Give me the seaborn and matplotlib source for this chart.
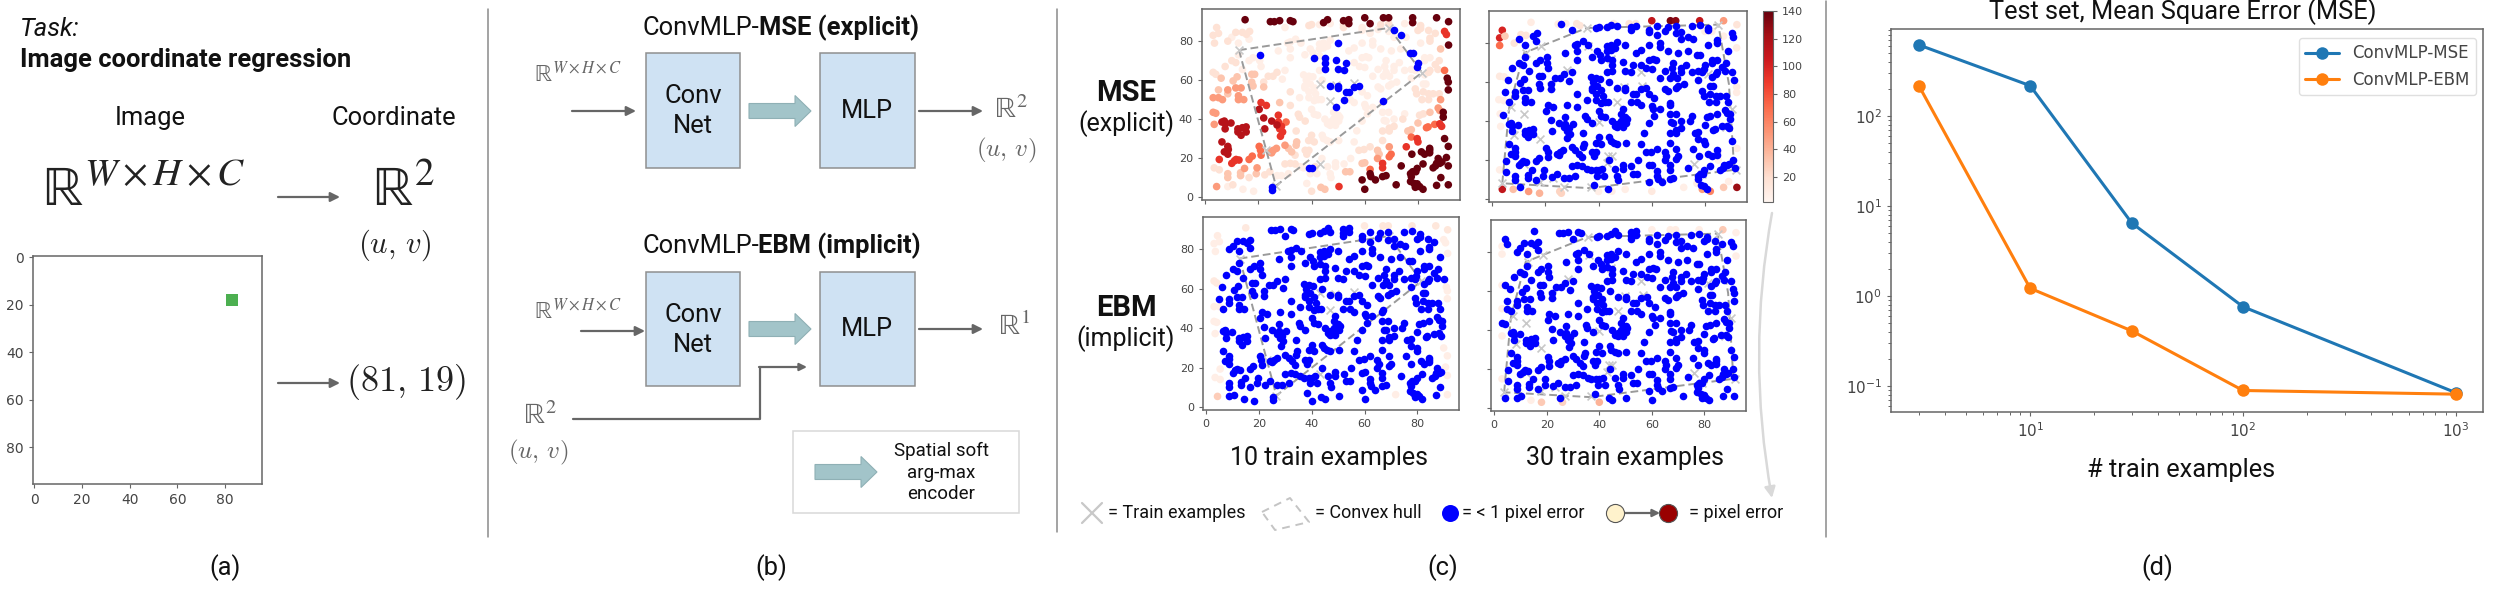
import matplotlib
matplotlib.use('Agg')
import matplotlib.pyplot as plt
from matplotlib.cm import ScalarMappable
from matplotlib.colors import Normalize
from matplotlib.patches import FancyArrow, FancyArrowPatch, Rectangle
import numpy as np
import seaborn as sns

# panel (d) values
train_sizes = [3, 10, 30, 100, 1000]
mse_curve = [622, 219, 6.5, 0.76, 0.084]
ebm_curve = [219, 1.22, 0.41, 0.089, 0.081]

# panel (c): test points of the 10 example MSE model, grouped by error level
mse10_blue = [(20.5, 73), (50, 79), (41, 71.5), (45, 71.5), (49, 70.5), (45, 69), (53, 69), (45, 65.5), (50, 65.5),
              (52, 65), (47, 57), (50, 57), (50, 56), (56, 56.5), (58, 57), (54, 54), (53, 54), (52, 50), (49, 46),
              (67, 49.5), (71, 85.5), (73.5, 83), (77, 74), (78, 74), (80, 69), (79.5, 66.5), (38.9, 14.7),
              (40, 14.7), (25.2, 5), (25.2, 3.4)]
mse10_dark = [(15, 91), (26, 90), (24.5, 90), (28, 90.5), (32, 90.5), (33, 90), (46, 91), (44.5, 89.5), (54, 91),
              (52, 90.5), (54, 89), (60, 92), (62, 89), (67, 92), (69, 92), (78, 92), (78, 89.5), (87, 92), (91.5, 90),
              (91.5, 78), (91, 61), (91.4, 59), (91.4, 55), (89.5, 43.5), (89.5, 41), (90, 30), (91.4, 26), (84.4, 25),
              (77.7, 22), (81.3, 23.2), (84.4, 24), (84.4, 22.7), (82.5, 22), (73.7, 16), (81.9, 17), (87.6, 19.8),
              (88.2, 17.3), (87, 17.3), (85.7, 15), (86.6, 16), (89, 18), (79.7, 14.7), (78, 13), (79.2, 13),
              (90.7, 20.3), (91.4, 16), (59, 8.8), (62, 12), (62.3, 10.5), (64, 8.8), (66.7, 10.5), (68, 11),
              (77.2, 12), (77.5, 10.5), (77.2, 8), (78.5, 7), (79.7, 6.8), (80.6, 5.4), (88.6, 10), (60, 4), (79, 5),
              (81.9, 4), (87, 6), (71.8, 6.3), (91.4, 6.3)]
mse10_crimson = [(20.3, 45), (6.3, 38.5), (9.7, 38), (7.6, 37.6), (7.5, 35), (7.2, 39), (22, 40.6), (25, 39), (27, 37),
                 (22.4, 35), (12.3, 35), (14, 35.6), (15.4, 36), (12.3, 33.4), (13.5, 31.7), (15.4, 33.4), (6.3, 28.3),
                 (8.5, 26), (8.7, 24.4), (7.2, 23.2), (8.5, 22)]
mse10_red = [(90, 85), (90.7, 83.4), (21, 48.5), (23, 47), (27.5, 42), (27.5, 38.5), (28.7, 36.3), (88.2, 37.6),
             (88.9, 36.3), (28, 35), (28.3, 31.2), (29.1, 33.4), (79.7, 30), (80, 28.3), (75.6, 25.8), (11.6, 19.3),
             (12.7, 19), (10, 17.3), (11, 18.6), (5.3, 19.3), (66.7, 17.3), (66.7, 15), (50.3, 5.4)]
mse10_coral = [(90, 65), (30.4, 38.5), (83.8, 36), (86.3, 37.3), (83.2, 35.6), (77.5, 30.8), (20.3, 26), (20.8, 24),
               (21, 21.5), (69.9, 22), (69.2, 20.7), (17.7, 21), (16.5, 19.3), (62, 14.2)]
mse10_orange = [(8.5, 55), (11.5, 56), (13.5, 56), (12.5, 52), (6.5, 50), (12.5, 50), (14.5, 50), (88.5, 50), (3, 51),
                (5, 51), (87.6, 45.7), (88.2, 44.4), (3, 43.5), (4, 43), (3.4, 37.3), (69.2, 25.8), (24.3, 23.2),
                (25.6, 24), (26.8, 25), (25, 22.7), (30, 26.6), (64.8, 19.8), (19.5, 15), (14.8, 14.7), (4.3, 5.4)]
mse10_peach = [(88.5, 76), (17.5, 63), (18.6, 63), (6, 61), (12, 61.7), (10.5, 59.6), (17.5, 59), (22, 56.5), (18, 57),
               (8.5, 53), (5, 55), (28, 48.5), (84.5, 43.5), (80, 38), (76.2, 33.9), (77.5, 34.6), (34.4, 28.3),
               (34.2, 26.6), (31.3, 25), (32.5, 23.2), (64.8, 24), (65.4, 22), (59, 17.3), (60, 17.6), (8.5, 12),
               (8.5, 10), (13.3, 12.5), (13.3, 11), (19.2, 12), (52.8, 13), (54.4, 13), (43.5, 5), (45, 4)]
mse10_pale = [(52, 88.5), (52, 87), (66, 88.5), (69, 89), (81, 88), (39, 88), (40, 88.5), (80, 85.5), (81, 86.5),
              (84, 85.5), (86.5, 84), (11.5, 84.5), (14, 84.5), (16.7, 85), (15.5, 83.5), (8.5, 80), (4.3, 87), (3, 83),
              (5, 84), (84.5, 80), (84.5, 81.5), (3.5, 79), (7.5, 67), (10, 70), (11.5, 69), (88, 70), (86.5, 68),
              (87.5, 65.5), (84.5, 65), (84, 64), (23.7, 62), (27, 64), (25.5, 62), (3, 64), (4, 63), (22, 59), (32, 54),
              (79, 55.5), (79.5, 53), (81.5, 50), (82, 54), (84, 53), (85.7, 53), (88, 53), (84, 50), (32, 47), (35, 42.5),
              (35.5, 41), (82, 42.7), (80.6, 42), (37.6, 39), (74.3, 40), (71, 36.3), (69.2, 35.4), (66.7, 33.9),
              (69.2, 33.9), (34.2, 33.9), (40, 31.7), (38.9, 29), (41, 28.3), (66.7, 29), (33.8, 21.5), (37.6, 24),
              (39, 24), (38.2, 22), (59.7, 24.4), (62, 25.8), (57.8, 24), (30, 17), (32, 17.3), (33.8, 17), (41.4, 15.6),
              (16.5, 10), (22.4, 11.4), (24.3, 13), (10.4, 6.3), (40, 3), (3.4, 15), (5.3, 14)]
mse10_faint = [(47, 89), (43, 88.5), (75, 89), (30, 87), (59, 87), (59, 85.5), (62, 84), (65, 86), (69, 85), (75.5, 82),
               (10, 82), (16.5, 81), (12.5, 79), (34, 81), (32, 79.6), (31, 79), (36, 79), (47, 80.5), (44.5, 79),
               (43, 78.5), (59, 79), (63, 80), (63, 78), (71, 82), (81, 79), (27.5, 75), (32, 76), (32, 71.5), (37.5, 73),
               (39.5, 76), (40.5, 74), (43, 76), (44.5, 76.5), (46, 77.5), (43, 72.5), (54, 75), (56, 76.5), (59, 71.5),
               (60.5, 72), (61.5, 71.5), (66, 76), (70, 75), (73.5, 76), (82.5, 71.5), (84.5, 71.5), (12.5, 73), (18, 71.5),
               (16.5, 70), (20.5, 70), (21, 67), (56, 69), (58, 67), (60, 66.5), (68, 70), (67.5, 67), (71, 67), (73, 69),
               (82.5, 70), (14, 65.5), (43, 65), (65, 65.5), (75, 65), (77.5, 65.5), (82.5, 62.7), (79, 65), (71, 65),
               (68, 64), (69.3, 62), (67, 62), (63, 62), (30, 65), (29, 60.5), (37, 62.7), (39, 62), (40.5, 61.7), (38, 60),
               (44, 60), (35.5, 51), (37.5, 56), (39, 54), (37.5, 57), (39.5, 58), (41, 56), (41.5, 53), (39, 51), (41, 49.5),
               (42.5, 50), (43.7, 50), (54.5, 50), (56, 48.5), (59, 54), (61, 52), (65, 56.5), (66, 55.5), (69, 57), (72, 59),
               (70, 58), (77.5, 61), (83, 58), (82, 58), (40, 45), (41, 42.5), (42.3, 42), (48.3, 43.5), (50, 42), (60, 47.5),
               (60.4, 46), (63, 46), (61, 42.7), (66.7, 48.5), (66.7, 43.5), (69, 43.5), (75, 42.7), (67.3, 39.3), (45, 40),
               (47, 38.5), (48.3, 40), (50.2, 39), (46, 37.6), (47, 36.8), (49, 36.8), (50.6, 41), (59, 39), (68, 39), (71, 40),
               (57, 34), (44, 31.7), (44.5, 30), (45.8, 29), (47, 28.3), (50.2, 29), (56, 28.3), (54.7, 19.8), (43.9, 19.8),
               (35.7, 15.6), (37, 15), (46, 15.6), (49, 17.6), (49, 15.6), (52.2, 17), (27, 11), (28.7, 11), (31.3, 12),
               (39.5, 12), (42, 12), (47, 12), (47.3, 10), (8.5, 5.4), (14.2, 4), (18.2, 3), (38.2, 7)]
mse10_levels = [8, 18, 32, 50, 70, 92, 115, 140]

# points that miss the 1 pixel mark in the other three panels: x, y, error
ebm10_off_x = [15, 60, 67, 69, 78, 87, 91.5, 91.5, 4.3, 3, 5, 90, 90.7, 3.5, 3, 4, 91, 91.4, 91.4, 3, 5, 3, 4, 3.4, 90,
               91.4, 90.7, 91.4, 3.4, 5.3, 5.3, 71.8, 91.4, 4.3]
ebm10_off_y = [91, 92, 92, 92, 92, 92, 90, 78, 87, 83, 84, 85, 83.4, 79, 64, 63, 61, 59, 55, 51, 51, 43.5, 43, 37.3, 30,
               26, 20.3, 16, 15, 14, 19.3, 6.3, 6.3, 5.4]
ebm10_off_err = [12, 12, 14, 14, 14, 14, 14, 8, 10, 8, 8, 8, 8, 8, 12, 12, 8, 8, 8, 8, 8, 8, 8, 8, 8, 8, 8, 8, 8, 8, 8, 8,
                 8, 28]
mse30_off_x = [3.8, 2.8, 2.8, 4.8, 8.3, 10.8, 12.7, 14.6, 24.8, 27.7, 31.8, 33, 45.7, 51.5, 54, 60, 67, 69, 78, 87, 92, 91.9,
               80, 82.6, 87, 2.8, 4.5, 91.9, 91.9, 2.5, 4.4, 3, 3.2, 92, 85, 85, 2.8, 3.8, 7.9, 13.7, 17.8, 25.4, 26, 40, 45,
               50, 60, 72, 77, 79, 82, 87, 88.9, 92]
mse30_off_y = [86.6, 82.7, 78.8, 83.6, 80, 84.4, 84, 90.7, 89.8, 90, 90, 89, 90, 90, 90, 91.5, 91.5, 91.5, 91.5, 91.5, 89.5,
               77.6, 86, 86, 83.6, 63, 62.7, 57.6, 54.7, 51, 50.5, 43.7, 37.3, 26, 24, 20, 15, 5, 5, 3.9, 3, 3.9, 3, 3.9, 4,
               5, 4, 6, 8, 5, 4, 6, 9, 6]
mse30_off_err = [100, 100, 70, 30, 15, 15, 15, 10, 10, 10, 15, 15, 12, 15, 15, 110, 135, 130, 110, 50, 15, 10, 8, 8, 8, 12,
                 10, 10, 10, 8, 8, 8, 8, 10, 5, 5, 8, 110, 35, 50, 40, 25, 25, 8, 8, 8, 12, 8, 10, 50, 60, 30, 8, 125]
ebm30_off_x = [60, 67, 69, 78, 87, 92, 92, 3, 3, 3, 3, 3, 3, 14, 18, 26, 40]
ebm30_off_y = [91.5, 91.5, 91.5, 91.5, 91.5, 90, 78, 83, 79, 63, 51, 37, 15, 4, 3, 3, 3]
ebm30_off_err = [8, 10, 10, 8, 30, 8, 8, 8, 8, 8, 8, 8, 10, 8, 30, 25, 40]

# convex hulls and train examples
hull10_x = [12.7, 69.2, 81.5, 26.6, 12.7]
hull10_y = [75.4, 86.8, 63.9, 5.8, 75.4]
train10_x = [12.7, 69.2, 81.5, 26.6, 47, 49, 56, 43.3, 23, 43]
train10_y = [75.4, 86.8, 63.9, 5.8, 49.5, 57.6, 58.5, 17, 24, 58]
hull30_x = [3.8, 6.4, 12, 35.6, 85, 89, 91, 36.8, 3.8]
hull30_y = [8.1, 47, 75, 87.8, 89.5, 59, 15, 5.6, 8.1]
train30_x = [18.4, 12.7, 28, 22, 7, 12, 8.3, 17.8, 40, 47, 49.6, 56.5, 56, 81.3, 90, 88, 91.5, 76, 43, 43.7, 45, 12, 23, 18,
             27, 37, 3.8, 79, 36, 44.5, 85, 35.6]
train30_y = [78.5, 75, 66, 58, 47, 43.7, 32.7, 31, 39.5, 49.7, 57.6, 58, 65, 64, 46, 37, 15, 18, 18.3, 22, 22, 18, 10.7, 9,
             6, 6, 8, 13, 78.5, 71.7, 89.5, 87.8]

sns.set_style('ticks')
plt.rcParams['font.family'] = ['Roboto', 'DejaVu Sans']
plt.rcParams['mathtext.default'] = 'rm'
W, H = 2500, 592
fig = plt.figure(figsize=(W / 100, H / 100), dpi=100)
GREY = '#666666'
TICK = '#444444'
REALS_WHC = r'$\mathbb{R}^{\mathit{W}\times\mathit{H}\times\mathit{C}}$'
UV = r'$(\mathit{u},\,\mathit{v})$'


def box(left, top, right, bottom):
    return fig.add_axes([left / W, 1 - bottom / H, (right - left) / W, (bottom - top) / H])


def style_axes(ax, size=10, color=GREY):
    for s in ax.spines.values():
        s.set_visible(True)
        s.set_color(color)
        s.set_linewidth(1.1)
    ax.tick_params(labelsize=size, labelcolor=TICK, color=color, width=0.8, length=3)
    for lab in ax.get_xticklabels() + ax.get_yticklabels():
        lab.set_family('DejaVu Sans')


# overlay in pixel coords for all the diagram parts
ov = fig.add_axes([0, 0, 1, 1], zorder=5)
ov.set_xlim(0, W)
ov.set_ylim(H, 0)
ov.axis('off')
ov.patch.set_alpha(0)


def label(x, y, s, size=18.4, ha='center', **kw):
    ov.text(x, y, s, fontsize=size, ha=ha, va='center', color=kw.pop('color', '#111111'), **kw)


def arrow(x0, y0, x1, y1, lw=1.6, color=GREY, scale=14):
    ov.add_patch(FancyArrowPatch((x0, y0), (x1, y1), arrowstyle='-|>', mutation_scale=scale, lw=lw, color=color,
                                 shrinkA=0, shrinkB=0))


def block_arrow(x0, x1, y):
    ov.add_patch(FancyArrow(x0, y, x1 - x0, 0, width=15, head_width=31, head_length=16, length_includes_head=True,
                            facecolor='#a2c4c9', edgecolor='#8fb0b5', lw=0.8))


def math(x, y, s, size, fam='stix', ha='center', color='#222222'):
    ov.text(x, y, s, fontsize=size, ha=ha, va='center', color=color, math_fontfamily=fam)


for x, y0, y1 in [(488, 9, 537), (1057, 9, 532), (1826, 1, 537)]:
    ov.plot([x, x], [y0, y1], color='#8a8a8a', lw=1.1)
for x, s in [(225, '(a)'), (771, '(b)'), (1443, '(c)'), (2157, '(d)')]:
    label(x, 568, s)

# panel (a)
label(20, 29, 'Task:', ha='left', style='italic')
label(20, 60, 'Image coordinate regression', ha='left', weight='bold')
label(150, 118, 'Image')
label(394, 118, 'Coordinate')
math(144, 190, REALS_WHC, 40)
math(403, 190, r'$\mathbb{R}^{2}$', 40)
math(395, 245, UV, 22, fam='cm')
arrow(278, 197, 340, 197)
arrow(278, 383, 340, 383)
math(406, 382, r'$(81,\,19)$', 26, fam='cm')

ax_a = box(33, 256, 262, 484)
ax_a.set_xlim(-0.5, 95.5)
ax_a.set_ylim(95.5, -0.5)
sns.scatterplot(x=[83], y=[18], marker='s', s=70, color='#4caf50', linewidth=0, ax=ax_a, legend=False)
ax_a.set_xticks(range(0, 81, 20))
ax_a.set_yticks(range(0, 81, 20))
style_axes(ax_a, 10)

# panel (b)
for top, bottom, y_thick, bold_text, start, y_title, y_mlp in [(53, 168, 111, 'MSE (explicit)', 643, 28, 111),
                                                                (272, 386, 329, 'EBM (implicit)', 642, 246, 329)]:
    for left, right in [(646, 740), (820, 915)]:
        ov.add_patch(Rectangle((left, top), right - left, bottom - top, facecolor='#cfe2f3', edgecolor='#8f8f8f', lw=1.1))
    block_arrow(749, 811, y_thick)
    label(693, top + 43, 'Conv')
    label(693, top + 73, 'Net')
    label(867, y_mlp, 'MLP')
    label(start, y_title, 'ConvMLP-', ha='left')
    label(start + 116, y_title, bold_text, ha='left', weight='bold')
math(578, 74, REALS_WHC, 17, color=GREY)
math(578, 311, REALS_WHC, 17, color=GREY)
arrow(572, 111, 636, 111)
arrow(919, 111, 983, 111)
math(1011, 110, r'$\mathbb{R}^{2}$', 21, color=GREY)
math(1006, 150, UV, 18, fam='cm', color=GREY)
arrow(581, 331, 645, 331)
arrow(919, 329, 983, 329)
math(1014, 327, r'$\mathbb{R}^{1}$', 21, color=GREY)
math(540, 416, r'$\mathbb{R}^{2}$', 21, color=GREY)
math(538, 452, UV, 18, fam='cm', color=GREY)
ov.plot([573, 760, 760], [419, 419, 367], color=GREY, lw=1.6)
arrow(759, 367, 807, 367, scale=11)
ov.add_patch(Rectangle((793, 431), 226, 82, facecolor='white', edgecolor='#d8d8d8', lw=1.1))
block_arrow(815, 877, 472)
label(941, 451, 'Spatial soft', 13.5)
label(941, 473, 'arg-max', 13.5)
label(941, 494, 'encoder', 13.5)

# panel (c)
label(1126, 93, 'MSE', 21, weight='bold')
label(1126, 124, '(explicit)', 18)
label(1126, 308, 'EBM', 21, weight='bold')
label(1126, 339, '(implicit)', 18)
label(1329, 458, '10 train examples', 18)
label(1625, 458, '30 train examples', 18)

mse10_groups = [mse10_faint, mse10_pale, mse10_peach, mse10_orange, mse10_coral, mse10_red, mse10_crimson, mse10_dark]
all_reds = [p for g in mse10_groups for p in g]
test_pts = np.array(all_reds + mse10_blue, dtype=float)
norm = Normalize(2, 140)


def blue_points(off_x, off_y):
    # drop the test point closest to each one that is off
    keep = np.ones(len(test_pts), dtype=bool)
    for x, y in zip(off_x, off_y):
        d = np.hypot(test_pts[:, 0] - x, test_pts[:, 1] - y)
        d[~keep] = 1e9
        keep[np.argmin(d)] = False
    return test_pts[keep]


def pixel_panel(ax, red_x, red_y, red_err, blue, hull_x, hull_y, train_x, train_y, show_x, show_y):
    sns.scatterplot(x=train_x, y=train_y, marker='x', color='#c8c8c8', s=32, linewidth=1.2, ax=ax, legend=False, zorder=4)
    sns.scatterplot(x=red_x, y=red_y, hue=red_err, palette='Reds', hue_norm=norm, s=30, linewidth=0, ax=ax, legend=False,
                    zorder=2)
    ax.plot(hull_x, hull_y, color='#9a9a9a', lw=1.4, ls=(0, (4, 2)), zorder=3)
    sns.scatterplot(x=blue[:, 0], y=blue[:, 1], color='#0000ff', s=30, linewidth=0, ax=ax, legend=False, zorder=5)
    ax.set_xlim(-1.2, 95.8)
    ax.set_ylim(-1.5, 96.5)
    ax.set_xticks(range(0, 81, 20))
    ax.set_yticks(range(0, 81, 20))
    ax.tick_params(labelbottom=show_x, labelleft=show_y)
    style_axes(ax, 8)


red_x, red_y, red_err = [], [], []
for level, group in zip(mse10_levels, mse10_groups):
    for x, y in group:
        red_x.append(x)
        red_y.append(y)
        red_err.append(level)

pixel_panel(box(1202, 9, 1460, 200), red_x, red_y, red_err, np.array(mse10_blue), hull10_x, hull10_y, train10_x, train10_y,
            False, True)
pixel_panel(box(1203, 217, 1459, 410), ebm10_off_x, ebm10_off_y, ebm10_off_err, blue_points(ebm10_off_x, ebm10_off_y),
            hull10_x, hull10_y, train10_x, train10_y, True, True)
pixel_panel(box(1489, 11, 1747, 202), mse30_off_x, mse30_off_y, mse30_off_err, blue_points(mse30_off_x, mse30_off_y),
            hull30_x, hull30_y, train30_x, train30_y, False, False)
pixel_panel(box(1491, 220, 1746, 411), ebm30_off_x, ebm30_off_y, ebm30_off_err, blue_points(ebm30_off_x, ebm30_off_y),
            hull30_x, hull30_y, train30_x, train30_y, True, False)

cax = box(1763, 11, 1773, 202)
cb = fig.colorbar(ScalarMappable(norm=norm, cmap='Reds'), cax=cax)
cb.set_ticks(range(20, 141, 20))
cb.ax.tick_params(labelsize=8, labelcolor=TICK, length=3, width=0.8, color=GREY)
cb.outline.set_edgecolor(GREY)
for lab in cb.ax.get_yticklabels():
    lab.set_family('DejaVu Sans')

# grey arc from the colorbar down to the legend
ov.add_patch(FancyArrowPatch((1772, 213), (1772, 498), connectionstyle='arc3,rad=0.09', arrowstyle='-|>', mutation_scale=16,
                             lw=1.8, color='#d9d9d9', shrinkA=0, shrinkB=0))

# legend row of panel (c)
label(1108, 513, '= Train examples', 13, ha='left')
label(1315, 513, '= Convex hull', 13, ha='left')
label(1462, 513, '= < 1 pixel error', 13, ha='left')
label(1689, 513, '= pixel error', 13, ha='left')
ov.plot([1082, 1102], [503, 523], color='#c8c8c8', lw=1.6)
ov.plot([1082, 1102], [523, 503], color='#c8c8c8', lw=1.6)
ov.plot([1262, 1290, 1309, 1275, 1262], [512, 498, 522, 530, 512], color='#c4c4c4', lw=1.4, ls=(0, (4, 3)))
ov.scatter([1450], [513], s=150, color='#0000ff', linewidth=0)
arrow(1622, 513, 1660, 513, lw=1.6, scale=11)
ov.scatter([1615], [513], s=170, color='#fff2cc', edgecolor='#555555', linewidth=0.8, zorder=6)
ov.scatter([1668], [513], s=170, color='#990000', edgecolor='#555555', linewidth=0.8, zorder=6)

# panel (d)
ax_d = box(1891, 29, 2483, 412)
sns.lineplot(x=train_sizes, y=mse_curve, marker='o', markersize=9, markeredgewidth=0, linewidth=2.2, color='#1f77b4',
             label='ConvMLP-MSE', ax=ax_d)
sns.lineplot(x=train_sizes, y=ebm_curve, marker='o', markersize=9, markeredgewidth=0, linewidth=2.2, color='#ff7f0e',
             label='ConvMLP-EBM', ax=ax_d)
ax_d.set_xscale('log')
ax_d.set_yscale('log')
ax_d.set_xlim(2.22, 1340)
ax_d.set_ylim(0.0513, 935)
style_axes(ax_d, 11)
ax_d.tick_params(which='minor', color=GREY, width=0.7, length=2, left=True, bottom=True)
leg = ax_d.legend(loc='upper right', prop={'family': 'DejaVu Sans', 'size': 12}, frameon=True, fancybox=True,
                  bbox_to_anchor=(0.9885, 0.977), borderaxespad=0, labelcolor='#444444')
leg.get_frame().set_edgecolor('#d8d8d8')
label(2183, 12, 'Test set, Mean Square Error (MSE)', 18.3)
label(2181, 470, '# train examples', 18.3)

fig.savefig('out.png', dpi=100)
